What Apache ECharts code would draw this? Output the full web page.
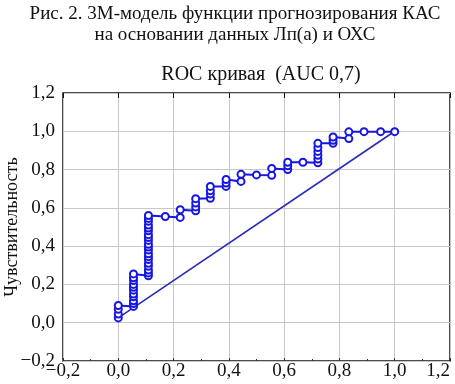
<!DOCTYPE html>
<html>
<head>
<meta charset="utf-8">
<style>
  html, body { margin: 0; padding: 0; background: #fff; }
  #chart { width: 455px; height: 384px; }
</style>
<script src="https://cdn.jsdelivr.net/npm/echarts@6/dist/echarts.min.js"></script>
</head>
<body>
<div id="chart"></div>
<script>
// ROC curve points: [1 - specificity, sensitivity]
const rocPoints = [
  [0, 0.025], [0, 0.045], [0, 0.07], [0, 0.09],
  [0.055, 0.085], [0.055, 0.10], [0.055, 0.115], [0.055, 0.135], [0.055, 0.15], [0.055, 0.17],
  [0.055, 0.185], [0.055, 0.20], [0.055, 0.22], [0.055, 0.235], [0.055, 0.255],
  [0.109, 0.245], [0.109, 0.26], [0.109, 0.275], [0.109, 0.295], [0.109, 0.31], [0.109, 0.33],
  [0.109, 0.345], [0.109, 0.36], [0.109, 0.38], [0.109, 0.395], [0.109, 0.41], [0.109, 0.43],
  [0.109, 0.445], [0.109, 0.46], [0.109, 0.48], [0.109, 0.495], [0.109, 0.51], [0.109, 0.53],
  [0.109, 0.545], [0.109, 0.56],
  [0.17, 0.555],
  [0.224, 0.55], [0.224, 0.59],
  [0.28, 0.585], [0.28, 0.605], [0.28, 0.625], [0.28, 0.648],
  [0.333, 0.65], [0.333, 0.672], [0.333, 0.69], [0.333, 0.712],
  [0.39, 0.712], [0.39, 0.73], [0.39, 0.748],
  [0.444, 0.738], [0.444, 0.775],
  [0.50, 0.772],
  [0.555, 0.77], [0.555, 0.806],
  [0.613, 0.80], [0.613, 0.82], [0.613, 0.838],
  [0.668, 0.838],
  [0.722, 0.835], [0.722, 0.855], [0.722, 0.875], [0.722, 0.895], [0.722, 0.915], [0.722, 0.937],
  [0.777, 0.937], [0.777, 0.953], [0.777, 0.97],
  [0.834, 0.962], [0.834, 0.997],
  [0.889, 0.998], [0.949, 0.998], [1.0, 0.998]
]

// reference line
const diagonal = [[0, 0.025], [1.0, 1.0]]

const xTickLabels = ['−0,2', '0,0', '0,2', '0,4', '0,6', '0,8', '1,0', '1,2']
const yTickLabels = ['−0,2', '0,0', '0,2', '0,4', '0,6', '0,8', '1,0', '1,2']

const captionLines = ['Рис. 2. 3М-модель функции прогнозирования КАС', 'на основании данных Лп(а) и ОХС']
const chartTitle = 'ROC кривая  (AUC 0,7)'
const yName = 'Чувствительность'

const serif = '"Liberation Serif", "Times New Roman", serif'
const tickIndex = v => Math.round((v + 0.2) / 0.2)
const blue = '#1616e0'

const captionStyle = { fontFamily: serif, fontSize: 19, fontWeight: 'normal', color: '#111' }

const chart = echarts.init(document.getElementById('chart'), null, { renderer: 'canvas' })

chart.setOption({
  animation: false,
  title: [{
    text: captionLines[0],
    left: 230,
    top: 0,
    textAlign: 'center',
    textStyle: captionStyle
  }, {
    text: captionLines[1],
    left: 230,
    top: 21,
    textAlign: 'center',
    textStyle: captionStyle
  }, {
    text: chartTitle,
    left: 256,
    top: 60,
    textAlign: 'center',
    textStyle: { fontFamily: serif, fontSize: 20, fontWeight: 'normal', color: '#111' }
  }],
  grid: {
    left: 63,
    right: 5,
    top: 93,
    bottom: 23,
    outerBoundsMode: 'none',
    containLabel: false,
    show: true,
    borderColor: '#111',
    borderWidth: 1.5
  },
  xAxis: [{
    type: 'value',
    min: -0.2,
    max: 1.2,
    interval: 0.2,
    axisLine: { show: false, onZero: false },
    axisTick: { show: true, inside: true, length: 3, lineStyle: { color: '#333' } },
    minorTick: { show: true, splitNumber: 2, length: 2, lineStyle: { color: '#333' } },
    splitLine: { show: true, lineStyle: { color: '#c8c8c8', width: 1 } },
    axisLabel: {
      margin: 1,
      fontFamily: serif,
      fontSize: 19,
      color: '#111',
      alignMaxLabel: 'right',
      formatter: v => xTickLabels[tickIndex(v)]
    }
  }, {
    type: 'value',
    position: 'top',
    min: -0.2,
    max: 1.2,
    interval: 0.2,
    axisLine: { show: false, onZero: false },
    axisTick: { show: true, inside: true, length: 5, lineStyle: { color: '#111' } },
    splitLine: { show: false },
    axisLabel: { show: false }
  }],
  yAxis: {
    type: 'value',
    min: -0.2,
    max: 1.2,
    interval: 0.2,
    name: yName,
    nameLocation: 'middle',
    nameGap: 42,
    nameMoveOverlap: false,
    nameTextStyle: { fontFamily: serif, fontSize: 18, color: '#111' },
    axisLine: { show: false, onZero: false },
    axisTick: { show: false },
    splitLine: { show: true, lineStyle: { color: '#c8c8c8', width: 1 } },
    axisLabel: {
      margin: 8,
      fontFamily: serif,
      fontSize: 19,
      color: '#111',
      formatter: v => yTickLabels[tickIndex(v)]
    }
  },
  series: [{
    name: 'diagonal',
    type: 'line',
    data: diagonal,
    symbol: 'none',
    lineStyle: { color: '#2a2ab4', width: 1.6 },
    z: 2
  }, {
    name: 'ROC',
    type: 'line',
    data: rocPoints,
    symbol: 'emptyCircle',
    symbolSize: 7,
    showAllSymbol: true,
    color: blue,
    lineStyle: { color: blue, width: 2 },
    itemStyle: { color: blue, borderColor: blue, borderWidth: 1.7 },
    z: 3
  }]
})
</script>
</body>
</html>
